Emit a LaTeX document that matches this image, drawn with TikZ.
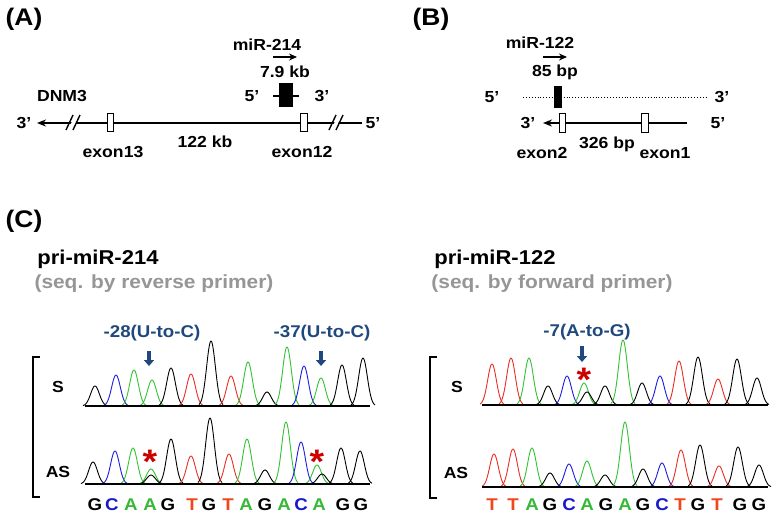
\documentclass[tikz,border=0pt]{standalone}
\usepackage{fontspec}
\setmainfont{Liberation Sans}[FakeStretch=1.1]
\usetikzlibrary{arrows.meta}
\definecolor{cA}{RGB}{50,195,50}
\definecolor{cC}{RGB}{30,30,225}
\definecolor{cT}{RGB}{235,45,35}
\definecolor{cG}{RGB}{0,0,0}
\definecolor{sA}{RGB}{55,185,55}
\definecolor{sC}{RGB}{25,25,200}
\definecolor{sT}{RGB}{240,70,30}
\definecolor{labblue}{RGB}{31,73,125}
\definecolor{subgrey}{RGB}{150,150,150}
\definecolor{starred}{RGB}{205,0,0}
\newcommand\chrompk[4]{\draw[#4, line width=0.9pt, line join=round] plot[domain=-12:12, samples=37, smooth] ({#2+\x},{#1-#3*exp(-(\x*\x)/38)});}
\tikzset{
  panel/.style={font=\fontsize{24}{28}\selectfont\bfseries, inner sep=0pt},
  lbl/.style={font=\fontsize{16}{19}\selectfont\bfseries, inner sep=0pt},
  title/.style={font=\fontsize{20}{24}\selectfont\bfseries, inner sep=0pt},
  subtitle/.style={font=\fontsize{19}{23}\selectfont\bfseries, text=subgrey, inner sep=0pt},
  bluelbl/.style={font=\fontsize{17}{20}\selectfont\bfseries, text=labblue, inner sep=0pt},
  seqletter/.style={font=\fontsize{17}{20}\selectfont\bfseries, inner sep=0pt},
  exonbox/.style={draw=black, fill=white, line width=1.4pt, minimum width=6.5pt, minimum height=18.5pt, inner sep=0pt},
  mirbox/.style={fill=black, inner sep=0pt},
  gene/.style={line width=1.6pt},
  smallarrow/.style={line width=2pt, -{Stealth[length=8pt,width=7pt]}},
  genearrow/.style={gene, -{Stealth[length=9pt,width=7pt]}},
  downarrow/.style={labblue, line width=3.5pt, -{Triangle[length=6pt,width=10pt]}},
  baseln/.style={line width=2pt},
  brack/.style={line width=2.4pt},
  star/.style={font=\fontsize{34}{34}\selectfont\bfseries, text=starred, inner sep=0pt, anchor=north}
}
\begin{document}
\begin{tikzpicture}[x=1pt,y=-1pt]
\useasboundingbox (0,0) rectangle (775,517);
\fill[white] (0,0) rectangle (775,517);

% ---------- Panel A ----------
\node[panel] (pA) at (24,19) {(A)};
\node[lbl] (mir214) at (267,45) {miR-214};
\coordinate (a214s) at (273,57); \coordinate (a214e) at (297,57);
\draw[smallarrow] (a214s) -- (a214e);
\node[lbl] (kb79) at (285,72) {7.9 kb};
\coordinate (m214l) at (273,96); \coordinate (m214r) at (299,96);
\draw[gene] (m214l) -- (m214r);
\node[mirbox, minimum width=14pt, minimum height=24pt] (m214) at (286,95) {};
\node[lbl] (a5top) at (252,96) {5’};
\node[lbl] (a3top) at (322,96) {3’};
\node[lbl] (dnm3) at (62,96) {DNM3};
\coordinate (Aleft) at (37,123); \coordinate (Aright) at (362,123);
\draw[genearrow] (Aright) -- (Aleft);
% break marks
\fill[white] (68,130) -- (75,115) -- (80,115) -- (73,130) -- cycle;
\draw[line width=1.4pt] (66,130) -- (73,115) (73,130) -- (80,115);
\fill[white] (331,130) -- (338,115) -- (342,115) -- (335,130) -- cycle;
\draw[line width=1.4pt] (329,130) -- (336,115) (336,130) -- (343,115);
\node[exonbox] (ex13) at (110.5,122.5) {};
\node[exonbox] (ex12) at (304,122.5) {};
\node[lbl] (a3) at (24,123) {3’};
\node[lbl] (a5) at (373,123) {5’};
\node[lbl] (kb122) at (205,142) {122 kb};
\node[lbl] (lex13) at (113,152) {exon13};
\node[lbl] (lex12) at (302,152) {exon12};

% ---------- Panel B ----------
\node[panel] (pB) at (431,19) {(B)};
\node[lbl] (mir122) at (540,43) {miR-122};
\coordinate (a122s) at (543,57); \coordinate (a122e) at (567,57);
\draw[smallarrow] (a122s) -- (a122e);
\node[lbl] (bp85) at (555,72) {85 bp};
\coordinate (dotl) at (523,97); \coordinate (dotr) at (707,97);
\draw[line width=0.9pt, dotted] (dotl) -- (dotr);
\node[mirbox, minimum width=8pt, minimum height=22pt] (m122) at (558,97) {};
\node[lbl] (b5top) at (492,97) {5’};
\node[lbl] (b3top) at (722,97) {3’};
\coordinate (Bleft) at (543,123); \coordinate (Bright) at (687,123);
\draw[genearrow] (Bright) -- (Bleft);
\node[exonbox] (ex2) at (562.5,123) {};
\node[exonbox] (ex1) at (645,123) {};
\node[lbl] (b3) at (528,123) {3’};
\node[lbl] (b5) at (718,123) {5’};
\node[lbl] (lex2) at (542,153) {exon2};
\node[lbl] (bp326) at (607,144) {326 bp};
\node[lbl] (lex1) at (665,153) {exon1};

% ---------- Panel C ----------
\node[panel] (pC) at (24,221) {(C)};
\node[title] (t214) at (98,259) {pri-miR-214};
\node[subtitle] (s214) at (154,284) {(seq. by reverse primer)};
\node[title] (t122) at (495,259) {pri-miR-122};
\node[subtitle] (s122) at (552,284) {(seq. by forward primer)};

\node[bluelbl] (m28) at (152,333) {-28(U-to-C)};
\node[bluelbl] (m37) at (322,333) {-37(U-to-C)};
\node[bluelbl] (m7) at (587,332) {-7(A-to-G)};
\coordinate (d28s) at (149,351); \coordinate (d28e) at (149,366);
\coordinate (d37s) at (321,351); \coordinate (d37e) at (321,366);
\coordinate (d7s) at (582,346); \coordinate (d7e) at (582,362);
\draw[downarrow] (d28s) -- (d28e);
\draw[downarrow] (d37s) -- (d37e);
\draw[downarrow] (d7s) -- (d7e);

% brackets
\draw[brack] (40,357) -- (33,357) -- (33,497) -- (40,497);
\draw[brack] (437,357) -- (430,357) -- (430,498) -- (437,498);
\node[lbl] (lS) at (58,387) {S};
\node[lbl] (lAS) at (58,472) {AS};
\node[lbl] (rS) at (457,387) {S};
\node[lbl] (rAS) at (456,473) {AS};

% left S trace
\foreach \px/\h/\c in {95/20/cG,116/31/cC,134/36/cA,152/26/cA,171/38/cG,191/32/cT,211/65/cG,231/30/cT,248/44/cA,267/14/cG,287/59/cA,304/40/cC,321/28/cA,342/41/cG,363/48/cG}
  {\chrompk{406}{\px}{\h}{\c}}
\draw[baseln] (85,406) -- (370,406);
% left AS trace
\foreach \px/\h/\c in {93/22/cG,115/33/cC,133/36/cA,151/15/cA,151/9/cG,171/45/cG,191/28/cT,210/66/cG,229/30/cT,247/45/cA,265/14/cG,286/62/cA,301/42/cC,317/19/cA,322/10/cG,341/36/cG,360/33/cG}
  {\chrompk{484}{\px}{\h}{\c}}
\draw[baseln] (85,484) -- (370,484);
% right S trace
\foreach \px/\h/\c in {492/41/cT,511/47/cT,529/47/cA,548/19/cG,567/29/cC,584/22/cA,587/13/cG,605/19/cG,623/65/cA,642/22/cG,660/29/cC,679/44/cT,698/48/cG,718/26/cT,737/46/cG,757/27/cG}
  {\chrompk{405}{\px}{\h}{\c}}
\draw[baseln] (482,405) -- (768,405);
% right AS trace
\foreach \px/\h/\c in {494/33/cT,513/38/cT,532/39/cA,550/14/cG,569/23/cC,587/26/cA,605/12/cG,625/65/cA,643/18/cG,662/24/cC,681/37/cT,700/42/cG,719/21/cT,738/40/cG,759/22/cG}
  {\chrompk{487}{\px}{\h}{\c}}
\draw[baseln] (482,487) -- (768,487);

% stars
\node[star] (st1) at (150,450) {*};
\node[star] (st2) at (317,450) {*};
\node[star] (st3) at (584,368) {*};

% sequence letters
\foreach \px/\L/\c in {95/G/cG,112/C/sC,131/A/sA,150/A/sA,168/G/cG,192/T/sT,209/G/cG,228/T/sT,246/A/sA,265/G/cG,284/A/sA,301/C/sC,319/A/sA,343/G/cG,361/G/cG}
  {\node[seqletter, text=\c] (L\px) at (\px,505) {\L};}
\foreach \px/\L/\c in {492/T/sT,513/T/sT,532/A/sA,550/G/cG,569/C/sC,587/A/sA,606/G/cG,625/A/sA,643/G/cG,662/C/sC,680/T/sT,698/G/cG,717/T/sT,740/G/cG,759/G/cG}
  {\node[seqletter, text=\c] (R\px) at (\px,505) {\L};}
\end{tikzpicture}
\end{document}
